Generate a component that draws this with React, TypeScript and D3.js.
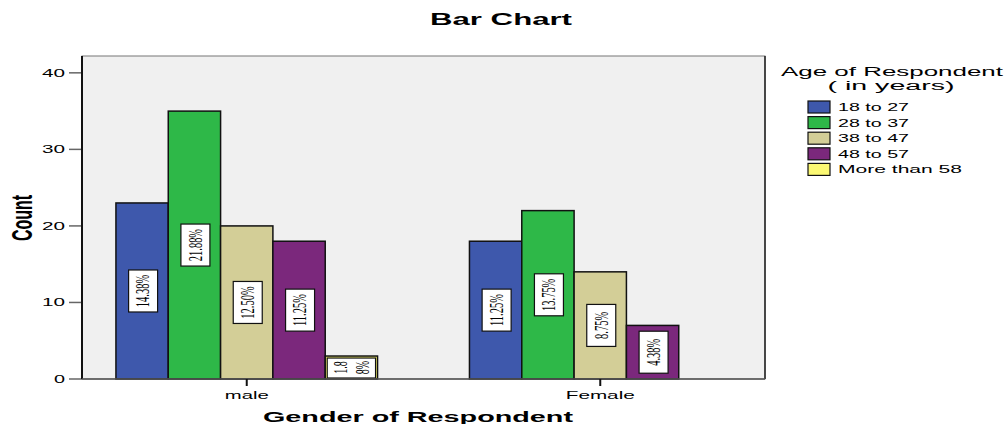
import React from "react";
import * as d3 from "d3";

const categories = ["male", "Female"];
const series = ["18 to 27", "28 to 37", "38 to 47", "48 to 57", "More than 58"];
const maleCounts = [23, 35, 20, 18, 3];
const femaleCounts = [18, 22, 14, 7, 0];
const colors = ["#3e58ac", "#2eb848", "#d3ce97", "#7b287c", "#fbf873"];
const yTicks = [0, 10, 20, 30, 40];
const countsByCategory = [maleCounts, femaleCounts];

const W = 1008;
const H = 424;
const plot = { left: 82, right: 765, top: 56, bottom: 379 };
const FONT = "'Liberation Sans', Arial, sans-serif";

export default function App() {
  const total = d3.sum(countsByCategory.flat());
  const y = d3.scaleLinear().domain([0, 42.2]).range([plot.bottom, plot.top]);
  const x = d3
    .scaleBand<string>()
    .domain(categories)
    .range([plot.left, plot.right])
    .paddingInner(0.26)
    .paddingOuter(0.096);
  const xs = d3.scaleBand<string>().domain(series).range([0, x.bandwidth()]).padding(0);

  const bars: any[] = [];
  categories.forEach((c, ci) => {
    countsByCategory[ci].forEach((v, si) => {
      if (v <= 0) return;
      bars.push({ c, s: series[si], v, color: colors[si] });
    });
  });

  return (
    <svg width={W} height={H} style={{ position: "absolute", left: 0, top: 0, background: "#fff" }}>
      {/* title */}
      <text x={501} y={25} textAnchor="middle" fontFamily={FONT} fontWeight="bold" fontSize={16}
        textLength={142} lengthAdjust="spacingAndGlyphs">Bar Chart</text>

      {/* plot background */}
      <rect x={plot.left} y={plot.top} width={plot.right - plot.left} height={plot.bottom - plot.top}
        fill="#f0f0f0" stroke="#777" strokeWidth={1} />
      <line x1={plot.right} x2={plot.right} y1={plot.top} y2={plot.bottom} stroke="#222" strokeWidth={1.5} />

      {/* y ticks */}
      {yTicks.map((t) => (
        <g key={t}>
          <line x1={69} x2={plot.left} y1={y(t)} y2={y(t)} stroke="#666" strokeWidth={1.5} />
          <text x={65} y={y(t) + 4} textAnchor="end" fontFamily={FONT} fontSize={10}
            textLength={t === 0 ? 11 : 23} lengthAdjust="spacingAndGlyphs">{t}</text>
        </g>
      ))}

      {/* bars */}
      {bars.map((b, i) => {
        const bx = (x(b.c) as number) + (xs(b.s) as number);
        const bw = xs.bandwidth();
        const by = y(b.v);
        const bh = plot.bottom - by;
        const pct = (Math.round((b.v / total) * 10000 + 1e-6) / 100).toFixed(2) + "%";
        const cx = bx + bw / 2 + 1;
        const cy = by + bh / 2;
        const small = bh < 44;
        return (
          <g key={i}>
            <rect x={bx} y={by} width={bw} height={bh} fill={b.color} stroke="#111" strokeWidth={1.5} />
            {small ? (
              <g>
                <rect x={bx + 2} y={by + 2} width={bw - 4} height={bh - 3} fill="#fff" stroke="#111" strokeWidth={1.2} />
                {[pct.slice(0, 3), pct.slice(3)].map((ln, k) => (
                  <text key={k} transform={`translate(${bx + 15 + k * 22},${cy}) scale(1.8,1) rotate(-90)`}
                    textAnchor="middle" dy="0.35em" fontFamily="'Liberation Serif', serif" fontSize={10}>{ln}</text>
                ))}
              </g>
            ) : (
              <g>
                <rect x={cx - 14.5} y={cy - 21} width={29} height={42} fill="#fff" stroke="#111" strokeWidth={1.2} />
                <text transform={`translate(${cx},${cy}) scale(1.7,1) rotate(-90)`} textAnchor="middle" dy="0.35em"
                  fontFamily="'Liberation Serif', serif" fontSize={10.5}>{pct}</text>
              </g>
            )}
          </g>
        );
      })}

      {/* axes */}
      <line x1={plot.left} x2={plot.left} y1={plot.top} y2={plot.bottom} stroke="#111" strokeWidth={2} />
      <line x1={plot.left} x2={plot.right} y1={plot.bottom} y2={plot.bottom} stroke="#555" strokeWidth={1.5} />
      {categories.map((c) => {
        const cx = (x(c) as number) + x.bandwidth() / 2;
        return (
          <g key={c}>
            <line x1={cx} x2={cx} y1={plot.bottom} y2={plot.bottom + 7} stroke="#111" strokeWidth={2} />
            <text x={cx} y={399} textAnchor="middle" fontFamily={FONT} fontSize={10.5}
              textLength={c === "male" ? 44 : 69} lengthAdjust="spacingAndGlyphs">{c}</text>
          </g>
        );
      })}

      {/* axis titles */}
      <text x={418} y={422} textAnchor="middle" fontFamily={FONT} fontWeight="bold" fontSize={14.5}
        textLength={310} lengthAdjust="spacingAndGlyphs">Gender of Respondent</text>
      <text transform="translate(32,218) scale(1.9,1) rotate(-90)" textAnchor="middle" fontFamily={FONT}
        fontWeight="bold" fontSize={16}>Count</text>

      {/* legend */}
      <text x={892} y={76} textAnchor="middle" fontFamily={FONT} fontSize={12.5}
        textLength={222} lengthAdjust="spacingAndGlyphs">Age of Respondent</text>
      <text x={891} y={90} textAnchor="middle" fontFamily={FONT} fontSize={12.5}
        textLength={127} lengthAdjust="spacingAndGlyphs">( in years)</text>
      {series.map((s, i) => {
        const ly = 107 + i * 15.6;
        return (
          <g key={s}>
            <rect x={808} y={ly - 6} width={22} height={12} fill={colors[i]} stroke="#111" strokeWidth={1.2} />
            <text x={838} y={ly + 4} fontFamily={FONT} fontSize={11}
              textLength={s.length === 8 ? 71 : 124} lengthAdjust="spacingAndGlyphs">{s}</text>
          </g>
        );
      })}
    </svg>
  );
}
